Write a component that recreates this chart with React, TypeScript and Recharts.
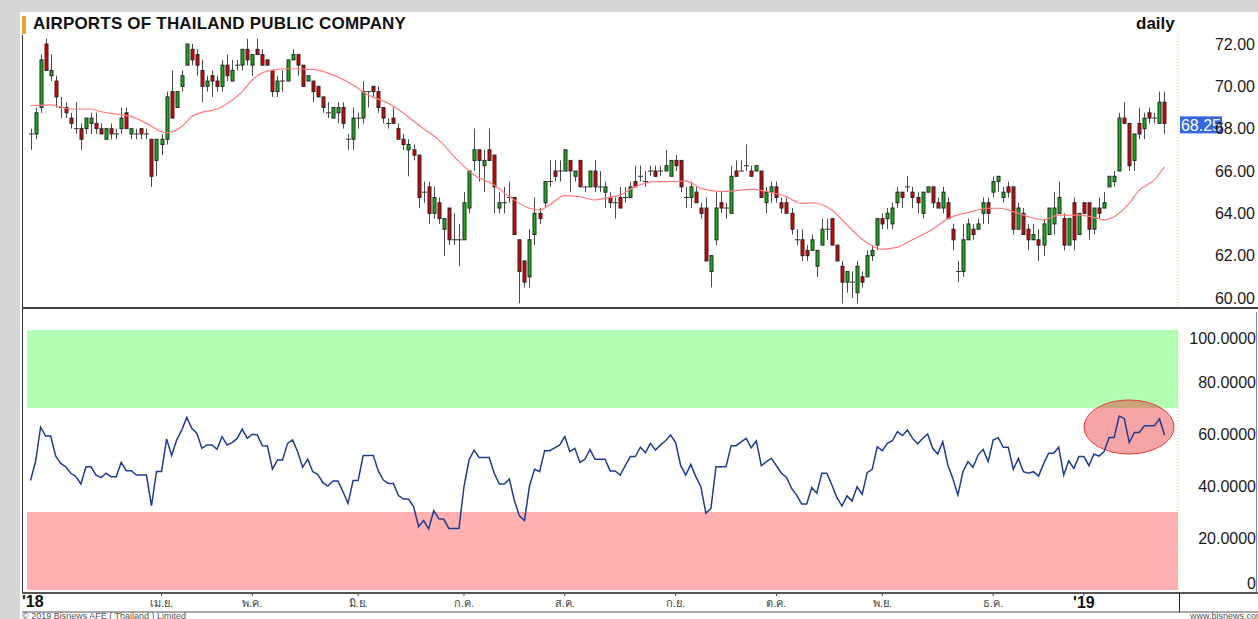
import React from 'react';
import { ComposedChart, Bar, Line, XAxis, YAxis, ReferenceArea, ReferenceLine } from 'recharts';

const opens = [
  67.75, 67.75, 69.0, 72.0, 70.5, 70.25, 69.0, 69.0, 68.5, 68.0,
  68.0, 68.0, 68.25, 68.25, 68.0, 67.5, 68.0, 67.75, 68.0, 68.75,
  67.75, 67.75, 68.0, 67.75, 67.5, 66.5, 67.25, 67.5, 69.75, 69.0,
  70.0, 71.0, 71.75, 71.5, 70.75, 70.0, 70.5, 70.25, 70.0, 71.0,
  70.25, 71.0, 71.0, 71.75, 71.0, 71.75, 71.5, 71.25, 70.75, 69.75,
  70.25, 70.25, 71.25, 71.5, 71.0, 70.25, 70.25, 70.0, 69.5, 68.75,
  68.5, 68.75, 69.0, 67.5, 67.5, 68.5, 68.5, 69.75, 70.0, 69.75,
  69.0, 68.25, 68.5, 68.0, 67.5, 67.0, 67.0, 66.75, 65.0, 65.25,
  64.0, 64.5, 63.25, 64.25, 62.75, 62.75, 62.75, 64.25, 66.5, 67.0,
  66.25, 67.0, 66.75, 64.25, 64.5, 64.75, 64.75, 62.75, 61.75, 61.0,
  63.0, 64.0, 64.5, 65.5, 66.0, 66.0, 66.0, 66.5, 65.75, 66.5,
  65.25, 65.25, 66.0, 65.25, 65.0, 64.75, 64.5, 64.75, 64.75, 64.75,
  65.5, 65.75, 65.5, 66.0, 66.0, 66.0, 66.0, 65.75, 66.5, 66.5,
  64.75, 64.75, 65.0, 64.25, 64.25, 61.25, 62.75, 64.5, 64.25, 64.0,
  66.0, 66.0, 66.25, 66.0, 66.0, 66.0, 64.5, 65.0, 65.25, 64.5,
  64.5, 64.0, 62.75, 62.75, 62.25, 62.25, 61.5, 62.5, 63.25, 63.75,
  62.5, 61.5, 60.75, 60.75, 60.25, 61.0, 61.0, 62.0, 62.5, 63.75,
  63.75, 63.5, 64.5, 65.0, 65.25, 65.0, 64.75, 64.0, 65.0, 65.25,
  64.5, 64.25, 64.5, 63.25, 61.25, 61.25, 62.75, 63.25, 63.25, 64.0,
  64.5, 65.0, 65.5, 64.75, 65.25, 65.25, 63.25, 64.0, 63.25, 62.75,
  62.75, 62.5, 63.0, 63.5, 64.0, 63.75, 62.5, 64.5, 63.0, 64.5,
  64.5, 63.25, 64.25, 64.25, 65.25, 65.5, 66.0, 68.5, 68.25, 66.5,
  68.25, 68.0, 68.75, 68.5, 68.25, 69.25
];
const highs = [
  68.0, 69.0, 71.5, 72.25, 71.5, 70.5, 69.5, 69.25, 68.75, 69.25,
  68.25, 68.5, 68.75, 68.75, 68.25, 68.0, 68.25, 68.0, 69.0, 69.0,
  68.0, 68.0, 68.0, 68.0, 67.5, 67.5, 67.75, 69.75, 70.75, 69.75,
  70.75, 72.0, 72.0, 71.75, 71.25, 70.5, 70.75, 70.5, 71.25, 71.5,
  71.25, 71.25, 71.75, 72.25, 71.5, 72.25, 71.75, 71.25, 70.75, 70.5,
  70.75, 71.25, 71.75, 71.5, 71.0, 70.5, 70.25, 70.0, 69.5, 69.25,
  69.0, 69.25, 69.25, 67.75, 69.0, 68.75, 70.25, 69.75, 70.0, 70.0,
  69.0, 68.5, 69.0, 68.25, 67.75, 67.5, 67.25, 66.75, 65.5, 65.5,
  65.25, 64.75, 63.75, 64.25, 64.0, 63.5, 65.0, 66.0, 68.0, 67.0,
  67.0, 68.0, 66.75, 65.0, 65.25, 65.5, 64.75, 62.75, 61.75, 63.25,
  64.75, 64.25, 65.5, 66.5, 66.5, 66.5, 67.0, 66.5, 66.0, 66.5,
  65.25, 66.0, 66.5, 66.0, 65.5, 65.0, 64.75, 65.25, 65.25, 65.5,
  66.25, 66.25, 66.0, 66.25, 66.25, 66.25, 67.0, 66.5, 66.75, 66.5,
  65.25, 65.5, 65.25, 64.5, 64.75, 62.0, 65.0, 65.0, 64.5, 66.25,
  66.5, 66.5, 67.25, 66.25, 66.25, 66.0, 65.25, 65.5, 65.5, 64.75,
  64.75, 64.25, 63.25, 63.25, 62.5, 63.0, 62.25, 63.75, 63.75, 63.75,
  62.5, 61.75, 61.25, 61.25, 61.75, 61.25, 62.25, 62.5, 63.75, 64.0,
  64.25, 64.5, 65.25, 65.0, 65.75, 65.25, 65.0, 65.0, 65.25, 65.25,
  64.75, 65.25, 64.75, 63.5, 61.75, 63.5, 63.75, 63.5, 63.75, 64.75,
  64.75, 65.75, 65.75, 65.25, 65.5, 65.25, 64.5, 64.25, 63.5, 63.5,
  63.25, 63.75, 64.25, 65.0, 65.5, 64.0, 63.75, 64.75, 64.0, 64.5,
  64.5, 64.25, 64.75, 65.0, 65.75, 66.0, 68.75, 69.25, 68.25, 67.75,
  69.0, 68.75, 69.0, 68.75, 69.75, 69.75
];
const lows = [
  67.0, 67.5, 68.75, 70.75, 70.25, 69.0, 68.5, 68.5, 68.0, 67.75,
  67.0, 67.75, 67.75, 67.75, 67.75, 67.5, 67.5, 67.5, 67.75, 68.0,
  67.5, 67.5, 67.5, 67.5, 65.25, 65.75, 66.75, 67.25, 68.5, 69.0,
  69.75, 71.0, 71.0, 70.5, 69.25, 69.75, 69.5, 69.75, 69.75, 70.25,
  70.25, 70.75, 70.75, 71.0, 70.5, 71.5, 71.0, 71.0, 69.5, 69.5,
  69.75, 70.25, 71.25, 70.5, 70.0, 70.25, 69.25, 69.5, 68.75, 68.5,
  68.5, 68.25, 68.0, 67.0, 67.0, 68.0, 68.25, 69.0, 69.5, 68.75,
  68.25, 68.0, 68.25, 67.5, 67.0, 65.75, 66.5, 64.25, 64.5, 63.5,
  63.75, 63.5, 62.0, 62.5, 62.5, 61.5, 62.75, 64.0, 66.0, 65.5,
  65.0, 66.5, 64.0, 64.0, 64.0, 64.5, 63.0, 59.75, 60.5, 60.5,
  62.5, 63.5, 64.25, 65.25, 65.5, 65.5, 66.0, 65.0, 65.5, 65.25,
  65.0, 65.25, 65.0, 65.0, 64.25, 64.25, 63.75, 64.25, 64.5, 64.75,
  65.25, 65.5, 65.25, 65.75, 65.75, 65.75, 66.0, 65.75, 66.0, 65.0,
  64.25, 64.25, 64.5, 63.75, 61.75, 60.5, 62.5, 64.0, 63.75, 64.0,
  65.75, 66.0, 66.0, 65.75, 66.0, 64.75, 64.0, 64.5, 64.5, 64.0,
  64.0, 63.0, 62.5, 61.75, 61.75, 62.25, 61.0, 62.5, 62.75, 62.5,
  61.75, 59.75, 60.25, 60.0, 59.75, 60.5, 61.0, 61.75, 62.25, 63.25,
  63.25, 63.25, 64.25, 64.25, 65.0, 64.25, 64.0, 63.75, 65.0, 64.25,
  64.25, 64.0, 63.75, 62.25, 60.75, 61.0, 62.75, 62.75, 63.25, 63.5,
  63.5, 64.75, 65.0, 64.5, 64.75, 63.0, 63.25, 63.0, 62.25, 62.75,
  61.75, 62.0, 63.0, 63.0, 64.0, 62.25, 62.5, 62.25, 63.0, 64.0,
  62.75, 63.0, 63.75, 64.25, 65.25, 65.25, 66.0, 68.25, 66.0, 66.0,
  67.5, 67.5, 68.25, 68.25, 68.25, 67.75
];
const closes = [
  67.75, 68.75, 71.25, 70.75, 70.75, 69.5, 69.0, 68.75, 68.25, 68.0,
  67.5, 68.5, 68.5, 68.0, 67.75, 68.0, 67.75, 67.75, 68.5, 68.0,
  68.0, 67.75, 67.75, 67.75, 65.75, 67.5, 67.5, 69.5, 68.5, 69.75,
  70.5, 72.0, 71.25, 71.0, 70.0, 70.25, 70.25, 70.0, 71.0, 70.5,
  70.75, 71.0, 71.75, 71.25, 71.5, 71.5, 71.0, 71.0, 69.75, 70.25,
  70.25, 71.25, 71.5, 71.0, 70.0, 70.5, 69.75, 69.5, 69.0, 68.75,
  69.0, 69.0, 68.25, 67.5, 68.5, 68.5, 69.75, 69.75, 69.75, 69.0,
  68.5, 68.25, 68.25, 67.5, 67.25, 67.25, 66.75, 64.75, 65.0, 64.0,
  64.75, 63.75, 63.75, 62.75, 62.75, 62.75, 64.5, 66.0, 67.0, 66.5,
  66.5, 66.5, 65.25, 64.5, 64.5, 64.75, 63.0, 61.25, 60.75, 62.75,
  64.0, 63.75, 65.5, 65.5, 65.75, 66.0, 67.0, 66.0, 66.0, 65.25,
  65.25, 66.0, 65.25, 65.25, 65.25, 64.5, 64.5, 64.25, 64.75, 65.25,
  65.25, 65.75, 65.5, 66.0, 65.75, 66.0, 66.25, 66.5, 66.25, 65.25,
  64.75, 65.25, 64.5, 64.0, 61.75, 62.0, 64.25, 64.25, 64.25, 65.75,
  65.75, 66.0, 66.25, 65.75, 66.25, 64.75, 65.0, 65.25, 64.75, 64.25,
  64.0, 63.25, 62.75, 62.0, 62.0, 62.75, 62.25, 63.25, 63.25, 62.5,
  61.75, 60.75, 61.25, 60.75, 61.5, 60.75, 62.0, 62.25, 63.75, 63.5,
  64.0, 64.25, 65.0, 64.75, 65.25, 64.75, 64.5, 65.0, 65.25, 64.5,
  64.25, 65.0, 63.75, 62.75, 61.25, 62.75, 63.5, 63.0, 63.5, 64.5,
  64.0, 65.5, 65.75, 65.0, 65.0, 63.25, 64.25, 63.0, 62.75, 63.0,
  62.5, 63.5, 64.25, 64.25, 64.75, 62.5, 63.75, 62.75, 64.0, 64.0,
  63.25, 64.25, 64.0, 64.5, 65.75, 65.75, 68.5, 68.25, 66.25, 67.75,
  67.75, 68.5, 68.5, 68.5, 69.25, 68.25
];
const rsiValues = [
  42.1, 49.4, 62.6, 59.2, 59.2, 51.5, 48.7, 47.4, 44.9, 43.6,
  40.8, 47.4, 47.4, 44.2, 43.2, 44.9, 43.6, 43.6, 49.1, 45.9,
  45.9, 44.2, 44.2, 44.2, 32.4, 45.6, 45.6, 58.1, 51.7, 57.7,
  61.5, 66.4, 62.2, 60.3, 54.5, 55.8, 55.8, 54.1, 59.0, 55.8,
  56.7, 58.3, 61.9, 58.3, 59.9, 59.6, 55.5, 55.4, 46.5, 50.0,
  50.0, 56.4, 57.7, 53.2, 47.2, 50.3, 45.5, 44.5, 41.3, 40.0,
  41.9, 41.9, 37.8, 33.3, 42.1, 42.1, 51.7, 51.7, 51.7, 45.8,
  42.3, 41.0, 41.0, 36.3, 35.0, 35.0, 32.1, 24.4, 26.7, 23.5,
  30.5, 27.4, 27.2, 23.7, 23.7, 23.7, 39.7, 50.0, 53.8, 51.0,
  51.0, 51.0, 44.9, 40.8, 40.8, 42.7, 34.4, 28.5, 26.7, 40.0,
  46.4, 45.5, 53.6, 53.6, 54.7, 55.8, 59.0, 53.2, 54.5, 49.1,
  50.3, 54.1, 50.3, 50.3, 50.3, 45.8, 45.8, 44.2, 47.8, 51.3,
  51.3, 54.9, 52.8, 56.4, 53.8, 55.8, 57.4, 59.6, 56.7, 47.8,
  44.2, 48.3, 43.6, 39.7, 29.5, 31.4, 47.4, 47.4, 47.4, 55.5,
  55.5, 57.0, 58.3, 54.7, 57.4, 47.8, 49.4, 50.6, 47.8, 44.9,
  43.3, 39.1, 36.5, 33.1, 33.1, 39.4, 37.2, 44.9, 44.9, 40.4,
  35.5, 32.3, 36.2, 34.2, 39.7, 36.8, 45.1, 46.4, 55.1, 53.6,
  56.4, 57.4, 60.9, 59.4, 61.5, 58.3, 56.2, 58.3, 60.0, 54.5,
  52.3, 57.0, 48.1, 42.9, 36.5, 45.5, 49.4, 47.2, 51.9, 54.1,
  49.4, 57.7, 58.6, 54.9, 54.9, 46.4, 50.6, 45.5, 44.9, 45.5,
  43.8, 48.5, 52.6, 52.6, 54.9, 44.2, 49.7, 46.8, 51.3, 51.3,
  47.8, 52.3, 51.5, 53.2, 58.7, 58.7, 66.9, 66.0, 56.7, 60.6,
  60.6, 63.2, 63.2, 63.2, 65.8, 59.6
];
const maIdx = [
  0, 4, 8, 12, 14, 18, 20, 23, 26, 27, 30, 32, 38, 42, 44, 47, 51, 56, 60, 64,
  67, 71, 74, 77, 81, 85, 88, 92, 95, 99, 101, 103, 106, 109, 112, 114, 117, 120, 124, 128,
  130, 133, 137, 141, 143, 146, 150, 153, 155, 159, 162, 166, 169, 172, 175, 179, 182, 186, 190, 192,
  195, 198, 201, 204, 208, 211, 213, 215, 218, 220, 223, 225
];
const maVal = [
  69.09, 69.12, 68.93, 68.93, 68.8, 68.65, 68.57, 68.25, 67.86, 67.81, 68.1, 68.57, 69.04, 69.75, 70.3, 70.72, 70.83, 70.8, 70.54, 70.06,
  69.59, 69.2, 68.73, 68.17, 67.47, 66.44, 65.81, 65.34, 64.79, 64.24, 64.16, 64.4, 64.84, 64.79, 64.63, 64.71, 64.87, 65.26, 65.5, 65.5,
  65.53, 65.18, 65.03, 65.1, 65.14, 65.03, 64.79, 64.47, 64.5, 64.16, 63.45, 62.6, 62.3, 62.4, 62.75, 63.25, 63.75, 64.03, 64.24, 64.24,
  64.08, 63.84, 63.69, 63.92, 63.92, 63.81, 63.69, 63.84, 64.47, 65.1, 65.58, 66.2
];
const monthTickIdx = [26, 44, 65, 86, 106, 128, 148, 169, 191, 209];
const monthTickLabels = ['เม.ย.', 'พ.ค.', 'มิ.ย.', 'ก.ค.', 'ส.ค.', 'ก.ย.', 'ต.ค.', 'พ.ย.', 'ธ.ค.', "'19"];
const priceTicks = [60, 62, 64, 66, 68, 70, 72];
const rsiTicks = [0, 20, 40, 60, 80, 100];
const title = 'AIRPORTS OF THAILAND PUBLIC COMPANY';

const FONT = 'Arial, "Liberation Sans", sans-serif';

const maMap = new Map<number, number>(maIdx.map((k, j) => [k, maVal[j]]));
const data = opens.map((o, i) => ({
  idx: i,
  open: o,
  high: highs[i],
  low: lows[i],
  close: closes[i],
  range: [lows[i], highs[i]],
  ma: maMap.has(i) ? maMap.get(i) : null,
  rsi: rsiValues[i],
}));

const Candle = (props: any) => {
  const { x, y, width, height, payload } = props;
  if (!payload) return null;
  const { open, close, high, low } = payload;
  const top = Math.min(y, y + height);
  const h = Math.abs(height);
  const span = high - low;
  const toY = (v: number) => (span === 0 ? top : top + ((high - v) / span) * h);
  const cx = Math.round(x + width / 2) + 0.5;
  const yo = toY(open);
  const yc = toY(close);
  const up = close > open;
  const bodyTop = Math.min(yo, yc);
  const bodyH = Math.abs(yc - yo);
  return (
    <g>
      <line x1={cx} x2={cx} y1={top} y2={top + h} stroke="#4a4a4a" strokeWidth={1} />
      {bodyH < 0.8 ? (
        <line x1={cx - 2.5} x2={cx + 2.5} y1={yo} y2={yo} stroke="#333" strokeWidth={1} />
      ) : (
        <rect
          x={cx - 1.5}
          y={bodyTop}
          width={3}
          height={bodyH}
          fill={up ? '#12b312' : '#dc0000'}
          stroke="#262626"
          strokeWidth={1}
        />
      )}
    </g>
  );
};

const PriceTick = (props: any) => {
  const { y, payload } = props;
  return (
    <text x={1255} y={y} dy="0.36em" textAnchor="end" fontSize={16} fontFamily={FONT} fill="#1a1a1a">
      {Number(payload.value).toFixed(2)}
    </text>
  );
};

const RsiTick = (props: any) => {
  const { y, payload } = props;
  const v = Number(payload.value);
  const adj = v === 100 ? 8 : v === 0 ? -7 : 0;
  return (
    <text x={1256} y={y + adj} dy="0.36em" textAnchor="end" fontSize={16} fontFamily={FONT} fill="#1a1a1a">
      {v === 0 ? '0' : v.toFixed(4)}
    </text>
  );
};

const MonthTick = (props: any) => {
  const { x, payload } = props;
  const j = monthTickIdx.indexOf(Number(payload.value));
  if (j < 0) return null;
  const label = monthTickLabels[j];
  const isYear = label.startsWith("'");
  return (
    <g>
      <line x1={x} x2={x} y1={283} y2={286} stroke="#444" />
      <text
        x={x}
        y={isYear ? 298 : 297}
        textAnchor="middle"
        fontSize={isYear ? 16 : 11}
        fontWeight={isYear ? 700 : 400}
        fontFamily={FONT}
        fill={isYear ? '#111' : '#444'}
      >
        {label}
      </text>
    </g>
  );
};

const LastPriceLabel = (props: any) => {
  const vb = props.viewBox || {};
  const y = vb.y ?? 0;
  const x0 = (vb.x ?? 0) + (vb.width ?? 0) + 2;
  return (
    <g>
      <rect x={x0} y={y - 7} width={42} height={17} fill="#3467dc" />
      <text x={x0 + 21} y={y + 2} dy="0.36em" textAnchor="middle" fontSize={16} fontFamily={FONT} fill="#ffffff">
        {closes[closes.length - 1].toFixed(2)}
      </text>
    </g>
  );
};

const EllipseShape = (props: any) => {
  const { y, height } = props;
  return (
    <ellipse
      cx={1129}
      cy={y + height / 2}
      rx={45}
      ry={height / 2}
      fill="rgb(230,40,40)"
      fillOpacity={0.42}
      stroke="#e23a3a"
      strokeWidth={1}
    />
  );
};

export default function App() {
  return (
    <div
      style={{
        position: 'absolute',
        left: 0,
        top: 0,
        width: 1258,
        height: 619,
        background: '#ffffff',
        overflow: 'hidden',
        fontFamily: FONT,
      }}
    >
      {/* frame */}
      <div style={{ position: 'absolute', left: 0, top: 0, width: 1258, height: 12, background: '#d6d6d6' }} />
      <div style={{ position: 'absolute', left: 0, top: 0, width: 20, height: 619, background: '#d6d6d6' }} />
      {/* title row */}
      <div style={{ position: 'absolute', left: 22, top: 16, width: 4, height: 18, background: '#f0a030' }} />
      <div
        style={{
          position: 'absolute',
          left: 33,
          top: 15,
          fontSize: 17,
          letterSpacing: 0.2,
          fontWeight: 700,
          color: '#111',
          lineHeight: '18px',
          whiteSpace: 'nowrap',
        }}
      >
        {title}
      </div>
      <div
        style={{
          position: 'absolute',
          left: 1136,
          top: 15,
          fontSize: 17,
          fontWeight: 700,
          color: '#111',
          lineHeight: '18px',
        }}
      >
        daily
      </div>

      {/* price chart */}
      <div style={{ position: 'absolute', left: 0, top: 0 }}>
        <ComposedChart width={1258} height={310} data={data} margin={{ top: 35, right: 0, bottom: 3, left: 27 }}>
          <XAxis dataKey="idx" hide padding={{ left: 1, right: 11 }} />
          <YAxis
            orientation="right"
            domain={[59.575, 72.425]}
            ticks={priceTicks}
            allowDataOverflow
            width={80}
            tick={<PriceTick />}
            tickLine={false}
            axisLine={{ stroke: '#e2c463', strokeDasharray: '1 2' }}
          />
          <Line
            dataKey="ma"
            type="monotone"
            connectNulls
            stroke="#ff7a7a"
            strokeWidth={1.2}
            dot={false}
            isAnimationActive={false}
          />
          <Bar dataKey="range" shape={<Candle />} isAnimationActive={false} />
          <ReferenceLine
            y={closes[closes.length - 1]}
            stroke="#ffffff"
            strokeOpacity={0}
            label={<LastPriceLabel />}
          />
        </ComposedChart>
      </div>

      {/* RSI chart */}
      <div style={{ position: 'absolute', left: 0, top: 310 }}>
        <ComposedChart width={1258} height={302} data={data} margin={{ top: 20, right: 0, bottom: 0, left: 27 }}>
          <XAxis
            dataKey="idx"
            type="number"
            domain={[-0.7, 227.67]}
            height={22}
            ticks={monthTickIdx}
            interval={0}
            tick={<MonthTick />}
            tickLine={false}
            axisLine={false}
          />
          <YAxis
            orientation="right"
            domain={[0, 100]}
            ticks={rsiTicks}
            width={80}
            tick={<RsiTick />}
            tickLine={false}
            axisLine={{ stroke: '#e2c463', strokeDasharray: '1 2' }}
          />
          <ReferenceArea y1={70} y2={100} fill="#b3ffb3" fillOpacity={1} stroke="none" />
          <ReferenceArea y1={0} y2={30} fill="#ffb1b1" fillOpacity={1} stroke="none" />
          <ReferenceArea y1={52.3} y2={73.1} shape={<EllipseShape />} />
          <Line
            dataKey="rsi"
            type="linear"
            stroke="#1f3c8f"
            strokeWidth={1.5}
            dot={false}
            isAnimationActive={false}
          />
        </ComposedChart>
      </div>

      {/* panel lines */}
      <div style={{ position: 'absolute', left: 22, top: 35, width: 1, height: 558, background: '#333' }} />
      <div style={{ position: 'absolute', left: 22, top: 307, width: 1236, height: 2, background: '#444' }} />
      <div style={{ position: 'absolute', left: 22, top: 592, width: 1236, height: 2, background: '#555' }} />
      <div style={{ position: 'absolute', left: 22, top: 611, width: 1236, height: 2, background: '#a8a8a8' }} />
      <div style={{ position: 'absolute', left: 1179, top: 593, width: 1, height: 19, background: '#222' }} />
      <div style={{ position: 'absolute', left: 1256, top: 312, width: 1, height: 281, background: '#6a86c8' }} />
      <div
        style={{
          position: 'absolute',
          left: 22,
          top: 593,
          fontSize: 16,
          fontWeight: 700,
          color: '#111',
          lineHeight: '18px',
        }}
      >
        '18
      </div>
      {/* footer */}
      <div
        style={{
          position: 'absolute',
          left: 22,
          top: 611,
          fontSize: 9,
          color: '#555',
          lineHeight: '10px',
          whiteSpace: 'nowrap',
        }}
      >
        © 2019 Bisnews AFE ( Thailand ) Limited
      </div>
      <div
        style={{
          position: 'absolute',
          left: 1190,
          top: 611,
          fontSize: 9,
          color: '#555',
          lineHeight: '10px',
          whiteSpace: 'nowrap',
        }}
      >
        www.bisnews.com
      </div>
    </div>
  );
}
